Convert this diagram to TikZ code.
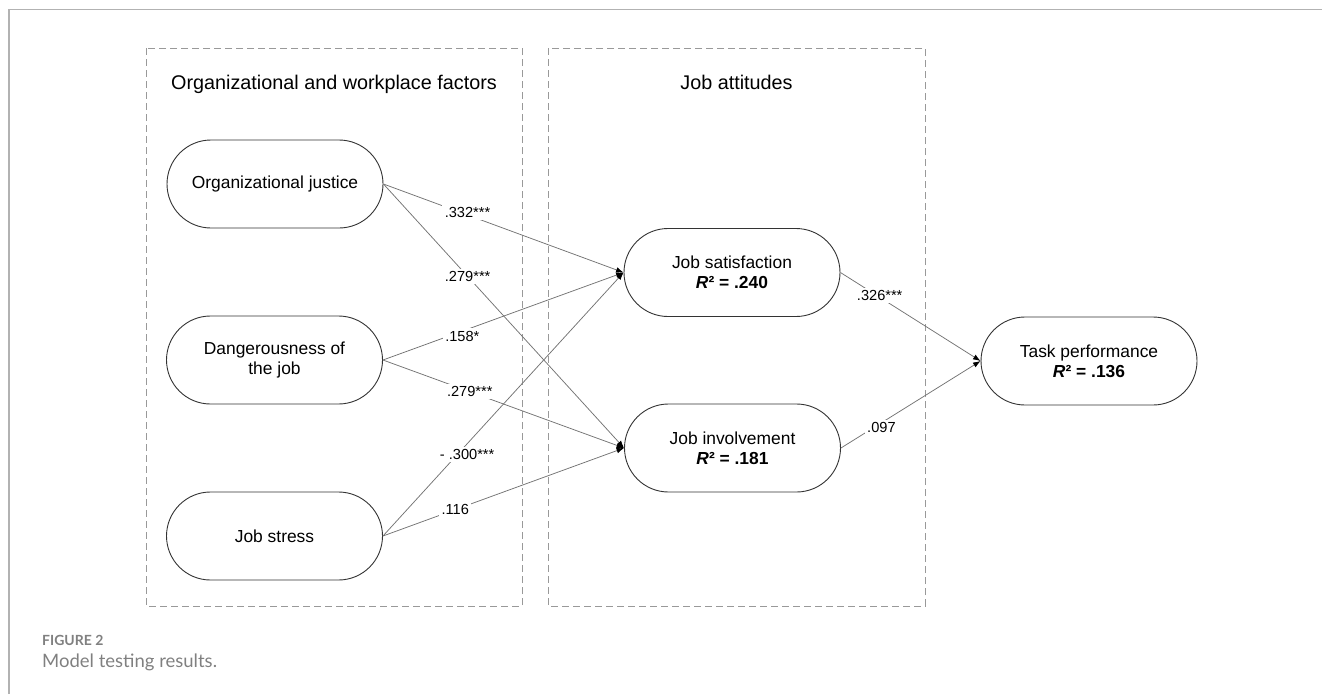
\documentclass[tikz,border=0pt]{standalone}
\usepackage{fontspec}
\setmainfont{Liberation Sans}
\newfontfamily\captionfont{Lato}
\usetikzlibrary{arrows.meta, shapes.misc}

\begin{document}
\begin{tikzpicture}[x = 1pt, y = -1pt, > = {Latex[length = 7.5pt, width = 5.5pt, color = black]},
	factor/.style = {draw = black!80, line width = 0.9pt, rounded rectangle,
		minimum width = 216pt, minimum height = 88pt, inner sep = 0pt,
		align = center, font = \fontsize{17.4}{20}\selectfont},
	group/.style = {draw = black!40, dash pattern = on 7pt off 4pt, line width = 1pt},
	heading/.style = {anchor = base, inner sep = 0pt, font = \fontsize{19.8}{22}\selectfont},
	link/.style = {->, draw = black!55, line width = 0.75pt},
	coef/.style = {fill = white, inner sep = 2.5pt, font = \fontsize{14.6}{16}\selectfont}]

	\useasboundingbox (0, 0) rectangle (1322, 694);

	% Frame

	\draw [black!30, line width = 1.3pt] (9, 694) -- (9, 9.5) -- (1322, 9.5);

	% Two groups of variables

	\draw [group] (146, 48) rectangle (522, 606);
	\draw [group] (548, 48) rectangle (925, 606);
	\node [heading] at (334, 89) {Organizational and workplace factors};
	\node [heading] at (736.5, 89) {Job attitudes};

	% Variables

	\node [factor] (justice) at (275, 184) {Organizational justice};
	\node [factor] (danger) at (274.5, 360) {Dangerousness of\\the job};
	\node [factor] (stress) at (274.5, 536) {Job stress};

	\node [factor] (satisf) at (732, 272.5) {Job satisfaction\\\textbf{\textit{R}² = .240}};
	\node [factor] (involv) at (732.5, 448) {Job involvement\\\textbf{\textit{R}² = .181}};

	\node [factor] (perform) at (1089, 361) {Task performance\\\textbf{\textit{R}² = .136}};

	% Paths with coefficients

	\draw [link] (justice.east) -- node [coef, pos = .35, yshift = 3pt] {.332***} (satisf.west);
	\draw [link] (justice.east) -- node [coef, pos = .35] {.279***} (involv.west);
	\draw [link] (danger.east) -- node [coef, pos = .33, yshift = -5pt] {.158*} (satisf.west);
	\draw [link] (danger.east) -- node [coef, pos = .36] {.279***} (involv.west);
	\draw [link] (stress.east) -- node [coef, pos = .35, yshift = -11pt] {- .300***} (satisf.west);
	\draw [link] (stress.east) -- node [coef, pos = .3] {.116} (involv.west);

	\draw [link] (satisf.east) -- node [coef, pos = .28, yshift = 2pt] {.326***} (perform.west);
	\draw [link] (involv.east) -- node [coef, pos = .29, yshift = -5pt] {.097} (perform.west);

	% Caption

	\node [anchor = base west, inner sep = 0pt, text = black!50,
		font = \captionfont\bfseries\fontsize{14}{16}\selectfont] at (42, 645) {FIGURE 2};
	\node [anchor = base west, inner sep = 0pt, text = black!50,
		font = \captionfont\fontsize{18.5}{21}\selectfont] at (42, 667) {Model testing results.};

\end{tikzpicture}
\end{document}
